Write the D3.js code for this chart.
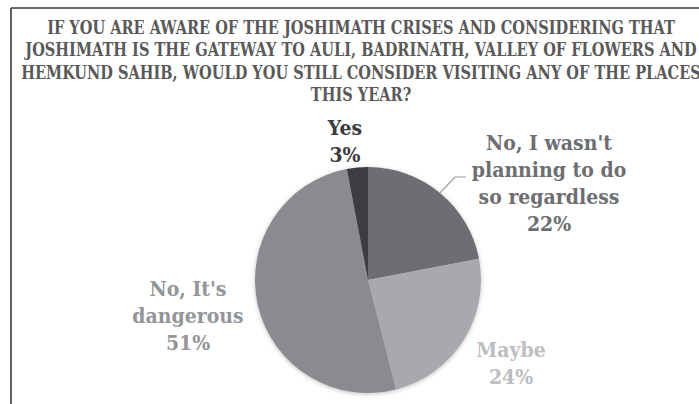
<!DOCTYPE html>
<html>
<head>
<meta charset="utf-8">
<script src="https://cdn.jsdelivr.net/npm/d3@7/dist/d3.min.js"></script>
<style>
  html, body { margin: 0; padding: 0; background: #fff; }
  svg { display: block; }
  text { font-family: "DejaVu Serif", serif; font-weight: bold; }
</style>
</head>
<body>
<svg id="chart" width="699" height="404"></svg>
<script>
// Survey responses (percent of respondents)
const categories = ["No, I wasn't planning to do so regardless", "Maybe", "No, It's dangerous", "Yes"];
const values = [22, 24, 51, 3];
const sliceColors = ["#6d6e71", "#a7a9ac", "#898b8e", "#3b3c40"];
const labelColors = ["#6d6e71", "#bcbec0", "#939598", "#3b3c40"];
// label text broken into lines, last line is the percentage
const labelLines = [
  ["No, I wasn't", "planning to do", "so regardless"],
  ["Maybe"],
  ["No, It's", "dangerous"],
  ["Yes"]
];
const titleLines = [
  "IF YOU ARE AWARE OF THE JOSHIMATH CRISES AND CONSIDERING THAT",
  "JOSHIMATH IS THE GATEWAY TO AULI, BADRINATH, VALLEY OF FLOWERS AND",
  "HEMKUND SAHIB, WOULD YOU STILL CONSIDER VISITING ANY OF THE PLACES",
  "THIS YEAR?"
];

const svg = d3.select("#chart");
const W = 699, H = 404;

// frame (top and left edges visible)
svg.append("line").attr("x1", 11).attr("y1", 8).attr("x2", W).attr("y2", 8)
  .attr("stroke", "#3a3a3a").attr("stroke-width", 1.6);
svg.append("line").attr("x1", 11).attr("y1", 8).attr("x2", 11).attr("y2", H)
  .attr("stroke", "#3a3a3a").attr("stroke-width", 1.6);

// title, narrowed horizontally so the first line fits the frame
const titleG = svg.append("g");
const title = titleG.append("text").attr("text-anchor", "middle")
  .attr("fill", "#595959").style("font-size", "18px");
titleLines.forEach((t, i) => {
  title.append("tspan").attr("x", 0).attr("y", 34 + i * 22.4).text(t);
});
const firstW = title.select("tspan").node().getComputedTextLength();
const k = 628 / firstW;
titleG.attr("transform", `translate(361,0) scale(${k},1)`);

// pie
const cx = 368, cy = 280, r = 113;
const defs = svg.append("defs");
const f = defs.append("filter").attr("id", "soft").attr("x", "-20%").attr("y", "-20%")
  .attr("width", "140%").attr("height", "140%");
f.append("feDropShadow").attr("dx", 0).attr("dy", 1).attr("stdDeviation", 2)
  .attr("flood-color", "#000").attr("flood-opacity", 0.25);

const pie = d3.pie().sort(null).value(d => d)(values);
const arc = d3.arc().innerRadius(0).outerRadius(r);
const g = svg.append("g").attr("transform", `translate(${cx},${cy})`);
g.append("g").attr("filter", "url(#soft)")
  .selectAll("path").data(pie).join("path")
  .attr("d", arc).attr("fill", (d, i) => sliceColors[i]);

// labels
const labelPos = [
  { x: 549, y: 150 },
  { x: 511, y: 357 },
  { x: 188, y: 296 },
  { x: 345, y: 135 }
];
const lh = 27;
pie.forEach((d, i) => {
  const lines = labelLines[i].concat([values[i] + "%"]);
  const t = svg.append("text").attr("text-anchor", "middle")
    .attr("transform", `translate(${labelPos[i].x},${labelPos[i].y}) scale(0.9,1)`)
    .attr("fill", labelColors[i]).style("font-size", "21px");
  lines.forEach((s, j) => {
    t.append("tspan").attr("x", 0).attr("y", j * lh).text(s);
  });
});

// leader line for the first slice label
const a0 = pie[0];
const mid = (a0.startAngle + a0.endAngle) / 2;
const ex = cx + Math.sin(mid) * r, ey = cy - Math.cos(mid) * r;
svg.append("path")
  .attr("d", `M${ex},${ey} L455,177 L466,177`)
  .attr("fill", "none").attr("stroke", "#9a9a9a").attr("stroke-width", 1.2);
</script>
</body>
</html>
